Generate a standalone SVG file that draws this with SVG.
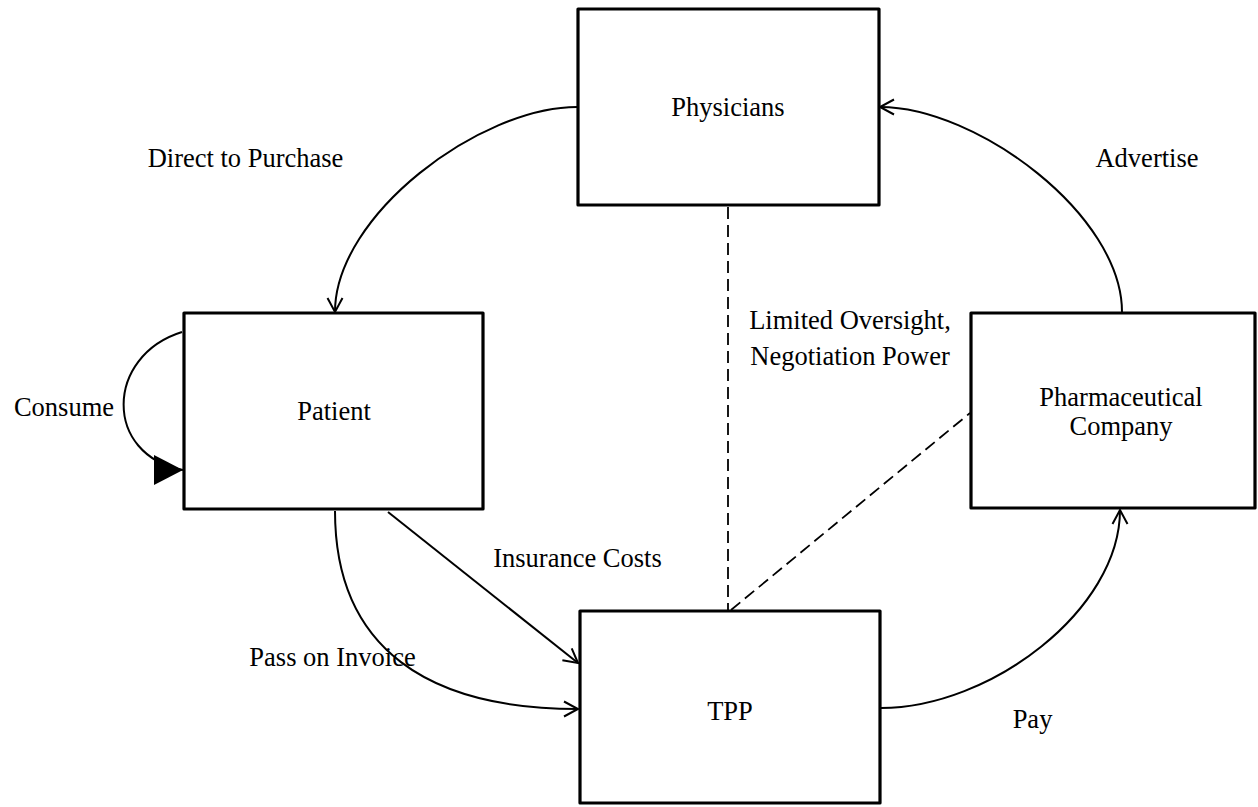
<svg xmlns="http://www.w3.org/2000/svg" width="1258" height="807" viewBox="0 0 1258 807">
<style>
.box{fill:#fff;stroke:#000;stroke-width:3.2;stroke-linejoin:round}
.lbl{font-family:"Liberation Serif","Times New Roman",serif;font-size:26.5px;fill:#000;text-anchor:middle}
.edge{fill:none;stroke:#000;stroke-width:2}
.dash{fill:none;stroke:#000;stroke-width:1.8;stroke-dasharray:12,6}
</style>
<defs>
<marker id="open" markerUnits="userSpaceOnUse" markerWidth="18" markerHeight="18" refX="14" refY="8" orient="auto" overflow="visible">
<path d="M0,0.5 L14,8 L0,15.5" fill="none" stroke="#000" stroke-width="2"/>
</marker>
<marker id="solid" markerUnits="userSpaceOnUse" markerWidth="32" markerHeight="32" refX="29" refY="15" orient="0" overflow="visible">
<path d="M0,0 L29,15 L0,30 Z" fill="#000"/>
</marker>
</defs>
<rect width="1258" height="807" fill="#fff"/>
<g id="connectors">
<path id="e-direct" class="edge" d="M577,107 C480,107 335,215 335,312" marker-end="url(#open)"/>
<path id="e-advertise" class="edge" d="M1122,312 C1122,215 977,107 880,107" marker-end="url(#open)"/>
<path id="e-consume" class="edge" d="M182,332 C105,356 103,455 183,470" marker-end="url(#solid)"/>
<path id="e-insurance" class="edge" d="M388,512 L578,663" marker-end="url(#open)"/>
<path id="e-pass" class="edge" d="M335,511 C335,650 430,709 578,709" marker-end="url(#open)"/>
<path id="e-pay" class="edge" d="M881,708 C990,708 1120,610 1120,510" marker-end="url(#open)"/>
<path id="e-oversight" class="dash" d="M728,207 L728,610"/>
<path id="e-negotiation" class="dash" d="M731,610 L970,413"/>
<text class="lbl" x="245.5" y="167">Direct to Purchase</text>
<text class="lbl" x="1147" y="167">Advertise</text>
<text class="lbl" x="64" y="416">Consume</text>
<text class="lbl" x="850" y="329">Limited Oversight,</text>
<text class="lbl" x="850" y="365">Negotiation Power</text>
<text class="lbl" x="577.5" y="567">Insurance Costs</text>
<text class="lbl" x="332.5" y="666">Pass on Invoice</text>
<text class="lbl" x="1032.5" y="728">Pay</text>
</g>
<g id="node-physicians">
<rect class="box" x="578" y="9" width="301" height="196"/>
<text class="lbl" x="728" y="116">Physicians</text>
</g>
<g id="node-patient">
<rect class="box" x="184" y="313" width="299" height="196"/>
<text class="lbl" x="334" y="420">Patient</text>
</g>
<g id="node-tpp">
<rect class="box" x="580" y="611" width="300" height="192"/>
<text class="lbl" x="730" y="720">TPP</text>
</g>
<g id="node-pharma">
<rect class="box" x="971" y="313" width="284" height="195"/>
<text class="lbl" x="1121" y="406">Pharmaceutical</text>
<text class="lbl" x="1121" y="435">Company</text>
</g>
</svg>
